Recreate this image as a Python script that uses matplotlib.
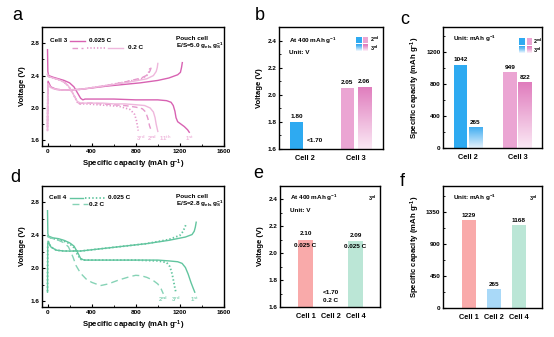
import numpy as np
import matplotlib
matplotlib.use('Agg')
import matplotlib.pyplot as plt
from matplotlib.patches import Rectangle
from matplotlib.colors import LinearSegmentedColormap, to_rgb
from matplotlib.ticker import MultipleLocator

plt.rcParams['font.family'] = ['Liberation Sans', 'DejaVu Sans']
plt.rcParams['font.weight'] = 'bold'
plt.rcParams['mathtext.fontset'] = 'custom'
plt.rcParams['mathtext.rm'] = 'Liberation Sans:bold'
plt.rcParams['mathtext.it'] = 'Liberation Sans:bold'
plt.rcParams['mathtext.default'] = 'rm'
plt.rcParams['axes.linewidth'] = 1.0
plt.rcParams['xtick.direction'] = 'in'
plt.rcParams['ytick.direction'] = 'in'
plt.rcParams['xtick.major.size'] = 2.5
plt.rcParams['ytick.major.size'] = 2.5
plt.rcParams['xtick.minor.size'] = 1.5
plt.rcParams['ytick.minor.size'] = 1.5
plt.rcParams['xtick.major.pad'] = 2
plt.rcParams['ytick.major.pad'] = 2

# ---------------- data ----------------
# panel a : Cell 3 (1st 0.025 C, 2nd/3rd/11th 0.2 C)
a_dis1_cap = [0, 3, 10, 50, 100, 150, 200, 240, 270, 300, 320, 340, 400, 600, 800, 1000, 1080, 1120, 1140, 1155, 1165, 1180, 1210, 1240, 1270, 1285]
a_dis1_v = [2.72, 2.45, 2.40, 2.38, 2.36, 2.34, 2.31, 2.26, 2.19, 2.12, 2.10, 2.11, 2.11, 2.11, 2.10, 2.10, 2.09, 2.07, 2.03, 1.96, 1.88, 1.83, 1.80, 1.77, 1.73, 1.70]
a_dis2_cap = [0, 5, 50, 100, 150, 190, 230, 270, 290, 320, 400, 500, 600, 700, 800, 860, 890, 910, 925, 940]
a_dis2_v = [2.42, 2.39, 2.37, 2.35, 2.32, 2.27, 2.18, 2.08, 2.05, 2.06, 2.06, 2.05, 2.04, 2.03, 2.01, 1.99, 1.95, 1.87, 1.78, 1.72]
a_dis3_cap = [0, 5, 50, 100, 150, 190, 230, 270, 300, 350, 450, 550, 650, 750, 790, 805, 815, 822]
a_dis3_v = [2.42, 2.39, 2.37, 2.35, 2.32, 2.27, 2.18, 2.07, 2.05, 2.05, 2.04, 2.03, 2.02, 1.98, 1.92, 1.85, 1.78, 1.72]
a_dis11_cap = [0, 5, 50, 100, 150, 190, 230, 270, 300, 400, 500, 600, 700, 800, 880, 930, 960, 975, 985, 995, 1000]
a_dis11_v = [2.42, 2.39, 2.37, 2.35, 2.32, 2.27, 2.18, 2.08, 2.06, 2.06, 2.06, 2.05, 2.05, 2.04, 2.03, 2.00, 1.95, 1.88, 1.80, 1.74, 1.71]
a_ch1_cap = [0, 2, 5, 30, 80, 150, 300, 540, 840, 1000, 1100, 1180, 1205, 1215, 1222]
a_ch1_v = [1.78, 2.28, 2.33, 2.26, 2.23, 2.22, 2.23, 2.27, 2.31, 2.34, 2.37, 2.41, 2.44, 2.50, 2.56]
a_ch2_cap = [0, 3, 30, 80, 150, 300, 500, 700, 850, 910, 930, 940, 945]
a_ch2_v = [1.72, 2.30, 2.25, 2.23, 2.22, 2.23, 2.27, 2.32, 2.37, 2.41, 2.46, 2.50, 2.53]
a_ch3_cap = [0, 3, 30, 80, 150, 300, 500, 700, 850, 900, 920, 930]
a_ch3_v = [1.72, 2.30, 2.25, 2.23, 2.22, 2.23, 2.27, 2.32, 2.36, 2.40, 2.45, 2.50]
a_ch11_cap = [0, 3, 30, 80, 150, 300, 500, 700, 900, 960, 985, 995, 1000]
a_ch11_v = [1.72, 2.30, 2.25, 2.23, 2.22, 2.23, 2.27, 2.31, 2.36, 2.40, 2.45, 2.50, 2.55]

# panel d : Cell 4 (1st/3rd 0.025 C, 2nd 0.2 C)
d_dis1_cap = [0, 3, 10, 50, 100, 150, 200, 240, 270, 300, 330, 400, 600, 800, 1000, 1100, 1180, 1220, 1250, 1275, 1300, 1320, 1335]
d_dis1_v = [2.70, 2.42, 2.39, 2.37, 2.36, 2.34, 2.31, 2.27, 2.20, 2.12, 2.10, 2.10, 2.10, 2.10, 2.10, 2.09, 2.08, 2.06, 2.01, 1.93, 1.83, 1.76, 1.71]
d_dis3_cap = [0, 3, 10, 50, 100, 150, 200, 240, 270, 300, 330, 400, 600, 800, 1000, 1080, 1110, 1130, 1145, 1155, 1162]
d_dis3_v = [2.40, 2.39, 2.38, 2.36, 2.35, 2.33, 2.30, 2.25, 2.17, 2.11, 2.10, 2.10, 2.10, 2.10, 2.09, 2.07, 2.02, 1.93, 1.83, 1.76, 1.72]
d_dis2_cap = [0, 5, 50, 100, 150, 190, 230, 260, 300, 350, 400, 480, 550, 650, 750, 800, 850, 900, 950, 1000, 1030, 1050]
d_dis2_v = [2.40, 2.38, 2.36, 2.34, 2.31, 2.26, 2.14, 2.03, 1.94, 1.87, 1.83, 1.79, 1.81, 1.86, 1.90, 1.915, 1.91, 1.89, 1.86, 1.81, 1.75, 1.69]
d_ch1_cap = [0, 2, 5, 30, 80, 150, 300, 500, 700, 900, 1100, 1250, 1310, 1330, 1340, 1348]
d_ch1_v = [1.71, 2.28, 2.33, 2.26, 2.22, 2.21, 2.21, 2.24, 2.27, 2.30, 2.34, 2.38, 2.41, 2.45, 2.50, 2.56]
d_ch3_cap = [0, 2, 5, 30, 80, 150, 300, 500, 700, 900, 1100, 1200, 1230, 1245, 1255]
d_ch3_v = [1.72, 2.28, 2.33, 2.26, 2.22, 2.21, 2.21, 2.24, 2.27, 2.30, 2.35, 2.40, 2.45, 2.50, 2.53]

# panel b : voltage at 400 mAh/g
b_cells = ['Cell 2', 'Cell 3']
b_2nd = [1.80, 2.05]
b_3rd = [None, 2.06]
# panel c : specific capacity
c_cells = ['Cell 2', 'Cell 3']
c_2nd = [1042, 949]
c_3rd = [265, 822]
# panel e / f
e_cells = ['Cell 1', 'Cell 2', 'Cell 4']
e_volt = [2.10, None, 2.09]
f_cap = [1229, 265, 1168]

# colours
pk_dark = '#d862b2'
pk_mid = '#e598cc'
pk_light = '#efb7dc'
gr = '#62c59f'
gr_light = '#86d3b6'
blue = '#2eaaf1'
blue_pale = '#a9d9f8'
salmon = '#f9aaaa'
mint = '#bbe6d6'
pk_bar = '#eba5d3'
pk_top = '#e07cbd'
pk_bot = '#fbe9f5'
bl_top = '#3aaaf0'
bl_bot = '#e6f3fd'

FS_T = 4.6   # tick labels
FS_L = 5.6   # axis labels
FS_S = 4.6   # annotations
FS_K = 3.9   # key labels

fig = plt.figure(figsize=(5.54, 3.37), dpi=100)


def ax_px(l, t, r, b):
    W, H = 554.0, 337.0
    return fig.add_axes([l / W, 1 - b / H, (r - l) / W, (b - t) / H])


def grad_bar(ax, bar, top, bottom):
    x0, y0 = bar.get_xy()
    w, h = bar.get_width(), bar.get_height()
    cmap = LinearSegmentedColormap.from_list('g', [bottom, top])
    im = ax.imshow(np.linspace(0, 1, 200).reshape(-1, 1), cmap=cmap, origin='lower',
                   aspect='auto', extent=[x0, x0 + w, y0, y0 + h], zorder=2)
    im.set_clip_path(bar)
    bar.set_facecolor('none')


def key_square(ax, x, y, w, h, top, bottom=None):
    if bottom is None:
        ax.add_patch(Rectangle((x, y), w, h, transform=ax.transAxes, color=top, lw=0))
        return
    n = 12
    t, b = np.array(to_rgb(top)), np.array(to_rgb(bottom))
    for i in range(n):
        f = i / (n - 1)
        ax.add_patch(Rectangle((x, y + h * i / n), w, h / n + 0.002, transform=ax.transAxes,
                               color=b + (t - b) * f, lw=0))


def style_ticks(ax):
    ax.tick_params(labelsize=FS_T, width=0.8)
    ax.tick_params(which='minor', width=0.6)
    for lab in ax.get_xticklabels() + ax.get_yticklabels():
        lab.set_fontweight('bold')


# ---------------- panel a ----------------
ax = ax_px(42, 27, 224, 146)
ax.plot(a_dis1_cap, a_dis1_v, color=pk_dark, lw=1.0)
ax.plot(a_ch1_cap, a_ch1_v, color=pk_dark, lw=1.0)
ax.plot(a_dis2_cap, a_dis2_v, color=pk_mid, lw=1.0, ls=(0, (4, 2.5)))
ax.plot(a_ch2_cap, a_ch2_v, color=pk_mid, lw=1.0, ls=(0, (4, 2.5)))
ax.plot(a_dis3_cap, a_dis3_v, color=pk_mid, lw=1.2, ls=(0, (0.8, 1.2)))
ax.plot(a_ch3_cap, a_ch3_v, color=pk_mid, lw=1.2, ls=(0, (0.8, 1.2)))
ax.plot(a_dis11_cap, a_dis11_v, color=pk_light, lw=1.0)
ax.plot(a_ch11_cap, a_ch11_v, color=pk_light, lw=1.0)
ax.set_xlim(-50, 1600)
ax.set_ylim(1.53, 3.0)
ax.xaxis.set_major_locator(MultipleLocator(400))
ax.xaxis.set_minor_locator(MultipleLocator(200))
ax.yaxis.set_major_locator(MultipleLocator(0.4))
ax.yaxis.set_minor_locator(MultipleLocator(0.2))
ax.yaxis.set_major_formatter(matplotlib.ticker.FormatStrFormatter('%.1f'))
style_ticks(ax)
ax.set_xlabel('Specific capacity (mAh g$^{-1}$)', fontsize=FS_L, fontweight='bold', labelpad=3)
ax.set_ylabel('Voltage (V)', fontsize=FS_L, fontweight='bold', labelpad=3)
T = ax.transAxes
ax.text(0.044, 0.885, 'Cell 3', transform=T, fontsize=FS_S, va='center')
ax.plot([0.154, 0.236], [0.885, 0.885], transform=T, color=pk_dark, lw=1.0)
ax.text(0.258, 0.885, '0.025 C', transform=T, fontsize=FS_S, va='center')
ax.plot([0.165, 0.225], [0.826, 0.826], transform=T, color=pk_mid, lw=1.0, ls=(0, (4, 2.5)))
ax.plot([0.247, 0.357], [0.826, 0.826], transform=T, color=pk_mid, lw=1.2, ls=(0, (0.8, 1.2)))
ax.plot([0.363, 0.445], [0.826, 0.826], transform=T, color=pk_light, lw=1.0)
ax.text(0.473, 0.826, '0.2 C', transform=T, fontsize=FS_S, va='center')
ax.text(0.736, 0.905, 'Pouch cell', transform=T, fontsize=FS_S, va='center')
ax.text(0.736, 0.843, 'E/S=5.0 g$_{els}$ g$_{S}^{-1}$', transform=T, fontsize=FS_S, va='center')
for cap, lab in zip([842, 948, 1065, 1284], ['3$^{rd}$', '2$^{nd}$', '11$^{th}$', '1$^{st}$']):
    ax.text(cap, 1.62, lab, fontsize=FS_S - 0.3, color=pk_light, ha='center', va='center')

# ---------------- panel d ----------------
ax = ax_px(42, 186, 224, 307)
ax.plot(d_dis1_cap, d_dis1_v, color=gr, lw=1.0)
ax.plot(d_ch1_cap, d_ch1_v, color=gr, lw=1.0)
ax.plot(d_dis3_cap, d_dis3_v, color=gr, lw=1.3, ls=(0, (0.8, 1.2)))
ax.plot(d_ch3_cap, d_ch3_v, color=gr, lw=1.3, ls=(0, (0.8, 1.2)))
ax.plot(d_dis2_cap, d_dis2_v, color=gr_light, lw=1.0, ls=(0, (5, 3)))
ax.set_xlim(-50, 1600)
ax.set_ylim(1.53, 3.0)
ax.xaxis.set_major_locator(MultipleLocator(400))
ax.xaxis.set_minor_locator(MultipleLocator(200))
ax.yaxis.set_major_locator(MultipleLocator(0.4))
ax.yaxis.set_minor_locator(MultipleLocator(0.2))
ax.yaxis.set_major_formatter(matplotlib.ticker.FormatStrFormatter('%.1f'))
style_ticks(ax)
ax.set_xlabel('Specific capacity (mAh g$^{-1}$)', fontsize=FS_L, fontweight='bold', labelpad=3)
ax.set_ylabel('Voltage (V)', fontsize=FS_L, fontweight='bold', labelpad=3)
T = ax.transAxes
ax.text(0.038, 0.903, 'Cell 4', transform=T, fontsize=FS_S, va='center')
ax.plot([0.154, 0.225], [0.903, 0.903], transform=T, color=gr, lw=1.0)
ax.plot([0.236, 0.346], [0.903, 0.903], transform=T, color=gr, lw=1.3, ls=(0, (0.8, 1.2)))
ax.text(0.36, 0.903, '0.025 C', transform=T, fontsize=FS_S, va='center')
ax.plot([0.165, 0.253], [0.849, 0.849], transform=T, color=gr_light, lw=1.0, ls=(0, (5, 3)))
ax.text(0.26, 0.849, '0.2 C', transform=T, fontsize=FS_S, va='center')
ax.text(0.736, 0.917, 'Pouch cell', transform=T, fontsize=FS_S, va='center')
ax.text(0.736, 0.857, 'E/S=2.8 g$_{els}$ g$_{S}^{-1}$', transform=T, fontsize=FS_S, va='center')
for cap, lab in zip([1050, 1165, 1335], ['2$^{nd}$', '3$^{rd}$', '1$^{st}$']):
    ax.text(cap, 1.62, lab, fontsize=FS_S - 0.3, color=gr_light, ha='center', va='center')

# ---------------- panel b ----------------
ax = ax_px(279, 27, 383, 149)
xb = np.arange(len(b_cells))
off, w = 0.165, 0.26
bars = ax.bar(xb - off, np.array(b_2nd) - 1.6, w, bottom=1.6, color=[blue, pk_bar], zorder=2)
for x, v in zip(xb - off, b_2nd):
    ax.text(x, v + 0.02, f'{v:.2f}', fontsize=FS_S, ha='center', va='bottom')
for x, v in zip(xb + off, b_3rd):
    if v is None:
        ax.text(x + 0.03, 1.665, '<1.70', fontsize=FS_S, ha='center', va='center')
    else:
        bb = ax.bar([x], [v - 1.6], w, bottom=1.6, zorder=2)[0]
        grad_bar(ax, bb, pk_top, pk_bot)
        ax.text(x, v + 0.02, f'{v:.2f}', fontsize=FS_S, ha='center', va='bottom')
ax.set_xlim(-0.52, 1.54)
ax.set_ylim(1.6, 2.5)
ax.set_xticks(xb, b_cells)
ax.yaxis.set_major_locator(MultipleLocator(0.2))
ax.yaxis.set_minor_locator(MultipleLocator(0.1))
ax.yaxis.set_major_formatter(matplotlib.ticker.FormatStrFormatter('%.1f'))
ax.tick_params(axis='x', length=0, pad=4)
style_ticks(ax)
ax.tick_params(axis='x', labelsize=FS_L - 0.3)
ax.set_ylabel('Voltage (V)', fontsize=FS_L, fontweight='bold', labelpad=3)
T = ax.transAxes
ax.text(0.1, 0.885, 'At 400 mAh g$^{-1}$', transform=T, fontsize=FS_S, va='center')
ax.text(0.1, 0.79, 'Unit: V', transform=T, fontsize=FS_S, va='center')
key_square(ax, 0.745, 0.87, 0.05, 0.045, blue)
key_square(ax, 0.81, 0.87, 0.05, 0.045, pk_bar)
key_square(ax, 0.745, 0.805, 0.05, 0.05, bl_top, bl_bot)
key_square(ax, 0.81, 0.805, 0.05, 0.05, pk_top, pk_bot)
ax.text(0.875, 0.895, '2$^{nd}$', transform=T, fontsize=FS_K, va='center')
ax.text(0.875, 0.826, '3$^{rd}$', transform=T, fontsize=FS_K, va='center')

# ---------------- panel c ----------------
ax = ax_px(443, 27, 542, 148)
xc = np.arange(len(c_cells))
off, w = 0.15, 0.27
ax.bar(xc - off, c_2nd, w, color=[blue, pk_bar], zorder=2)
for x, v in zip(xc - off, c_2nd):
    ax.text(x, v + 25, f'{v}', fontsize=FS_S, ha='center', va='bottom')
for x, v, (ct, cb) in zip(xc + off, c_3rd, [(bl_top, bl_bot), (pk_top, pk_bot)]):
    bb = ax.bar([x], [v], w, zorder=2)[0]
    grad_bar(ax, bb, ct, cb)
    ax.text(x, v + 25, f'{v}', fontsize=FS_S, ha='center', va='bottom')
ax.set_xlim(-0.5, 1.49)
ax.set_ylim(0, 1510)
ax.set_xticks(xc, c_cells)
ax.yaxis.set_major_locator(MultipleLocator(400))
ax.yaxis.set_minor_locator(MultipleLocator(200))
ax.tick_params(axis='x', length=0, pad=4)
style_ticks(ax)
ax.tick_params(axis='x', labelsize=FS_L - 0.3)
ax.set_ylabel('Specific capacity (mAh g$^{-1}$)', fontsize=FS_L, fontweight='bold', labelpad=3)
T = ax.transAxes
ax.text(0.1, 0.9, 'Unit: mAh g$^{-1}$', transform=T, fontsize=FS_S, va='center')
key_square(ax, 0.77, 0.855, 0.055, 0.05, blue)
key_square(ax, 0.845, 0.855, 0.055, 0.05, pk_bar)
key_square(ax, 0.77, 0.785, 0.055, 0.055, bl_top, bl_bot)
key_square(ax, 0.845, 0.785, 0.055, 0.055, pk_top, pk_bot)
ax.text(0.905, 0.882, '2$^{nd}$', transform=T, fontsize=FS_K, va='center')
ax.text(0.905, 0.808, '3$^{rd}$', transform=T, fontsize=FS_K, va='center')

# ---------------- panel e ----------------
ax = ax_px(280, 186, 380, 307)
xe = np.arange(len(e_cells))
e_cols = [salmon, blue_pale, mint]
for x, v, c in zip(xe, e_volt, e_cols):
    if v is None:
        ax.text(x, 1.71, '<1.70', fontsize=FS_S, ha='center', va='center')
        ax.text(x, 1.65, '0.2 C', fontsize=FS_S, ha='center', va='center')
    else:
        ax.bar([x], [v - 1.6], 0.6, bottom=1.6, color=c, zorder=2)
        ax.text(x, v + 0.025, f'{v:.2f}', fontsize=FS_S, ha='center', va='bottom')
        ax.text(x, v - 0.04, '0.025 C', fontsize=FS_S, ha='center', va='center')
ax.set_xlim(-1.02, 2.98)
ax.set_ylim(1.6, 2.5)
ax.set_xticks(xe, e_cells)
ax.yaxis.set_major_locator(MultipleLocator(0.2))
ax.yaxis.set_minor_locator(MultipleLocator(0.1))
ax.yaxis.set_major_formatter(matplotlib.ticker.FormatStrFormatter('%.1f'))
ax.tick_params(axis='x', length=0, pad=4)
style_ticks(ax)
ax.tick_params(axis='x', labelsize=FS_L - 0.3)
ax.set_ylabel('Voltage (V)', fontsize=FS_L, fontweight='bold', labelpad=3)
T = ax.transAxes
ax.text(0.1, 0.9, 'At 400 mAh g$^{-1}$', transform=T, fontsize=FS_S, va='center')
ax.text(0.1, 0.8, 'Unit: V', transform=T, fontsize=FS_S, va='center')
ax.text(0.97, 0.9, '3$^{rd}$', transform=T, fontsize=FS_K, va='center', ha='right')

# ---------------- panel f ----------------
ax = ax_px(443, 186, 542, 308)
xf = np.arange(len(e_cells))
ax.bar(xf, f_cap, 0.56, color=e_cols, zorder=2)
for x, v in zip(xf, f_cap):
    ax.text(x, v + 30, f'{v}', fontsize=FS_S, ha='center', va='bottom')
ax.set_xlim(-1.04, 2.92)
ax.set_ylim(0, 1710)
ax.set_xticks(xf, e_cells)
ax.yaxis.set_major_locator(MultipleLocator(450))
ax.yaxis.set_minor_locator(MultipleLocator(225))
ax.tick_params(axis='x', length=0, pad=4)
style_ticks(ax)
ax.tick_params(axis='x', labelsize=FS_L - 0.3)
ax.set_ylabel('Specific capacity (mAh g$^{-1}$)', fontsize=FS_L, fontweight='bold', labelpad=3)
T = ax.transAxes
ax.text(0.1, 0.9, 'Unit: mAh g$^{-1}$', transform=T, fontsize=FS_S, va='center')
ax.text(0.95, 0.9, '3$^{rd}$', transform=T, fontsize=FS_K, va='center', ha='right')

# panel letters
for x, y, s in [(12, 15, 'a'), (255, 15, 'b'), (400, 19, 'c'),
                (10, 178, 'd'), (253, 174, 'e'), (400, 182, 'f')]:
    fig.text(x / 554, 1 - y / 337, s, fontsize=13, fontweight='normal', va='center')

fig.savefig('out.png', dpi=100)
